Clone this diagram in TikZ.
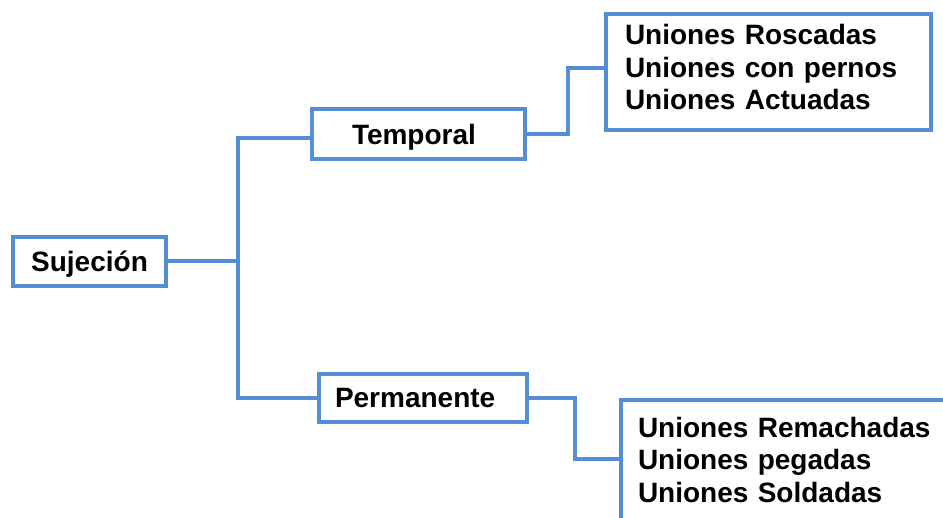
\documentclass[tikz,border=0pt]{standalone}
\usepackage{fontspec}
\setmainfont{Liberation Sans}
\definecolor{azul}{RGB}{85,142,213}
\tikzset{
  caja/.style={draw=azul, line width=4pt, fill=white, align=left, inner ysep=0pt,
    font=\fontsize{28}{32.5}\selectfont\bfseries},
  linea/.style={draw=azul, line width=4pt},
}
\begin{document}
\begin{tikzpicture}[x=1pt, y=-1pt]
    \clip (0,0) rectangle (943,518);

    % Boxes
    \node[caja, align=center, text width=119pt, inner xsep=17pt, minimum height=49pt, text depth=0pt] (suj) at (89.5,261.5) {Sujeción};
    \node[caja, text width=133pt, inner xsep=40pt, minimum height=50pt, text depth=0pt] (temp) at (418.5,134) {Temporal};
    \node[caja, text width=176pt, inner xsep=16pt, minimum height=48pt, text depth=0pt] (perm) at (423,398) {Permanente};
    \node[caja, text width=287pt, inner xsep=19pt, minimum height=116pt, text depth=75pt] (tipos1) at (768.5,72)
        {Uniones Roscadas\\Uniones con pernos\\Uniones Actuadas};
    \node[caja, text width=310pt, inner xsep=17pt, minimum height=129pt, text depth=75pt] (tipos2) at (793,464.6)
        {Uniones Remachadas\\Uniones pegadas\\Uniones Soldadas};

    % Connectors
    \coordinate (rama) at (238,261.5);
    \draw[linea] (suj.east) -- (rama);
    \draw[linea] (rama) |- ([yshift=-4pt]temp.west);
    \draw[linea] (rama) |- (perm.west);
    \draw[linea] (temp.east) -- ++(41,0) |- ([yshift=4pt]tipos1.west);
    \draw[linea] (perm.east) -- ++(46,0) |- ([yshift=5.6pt]tipos2.west);
\end{tikzpicture}
\end{document}
